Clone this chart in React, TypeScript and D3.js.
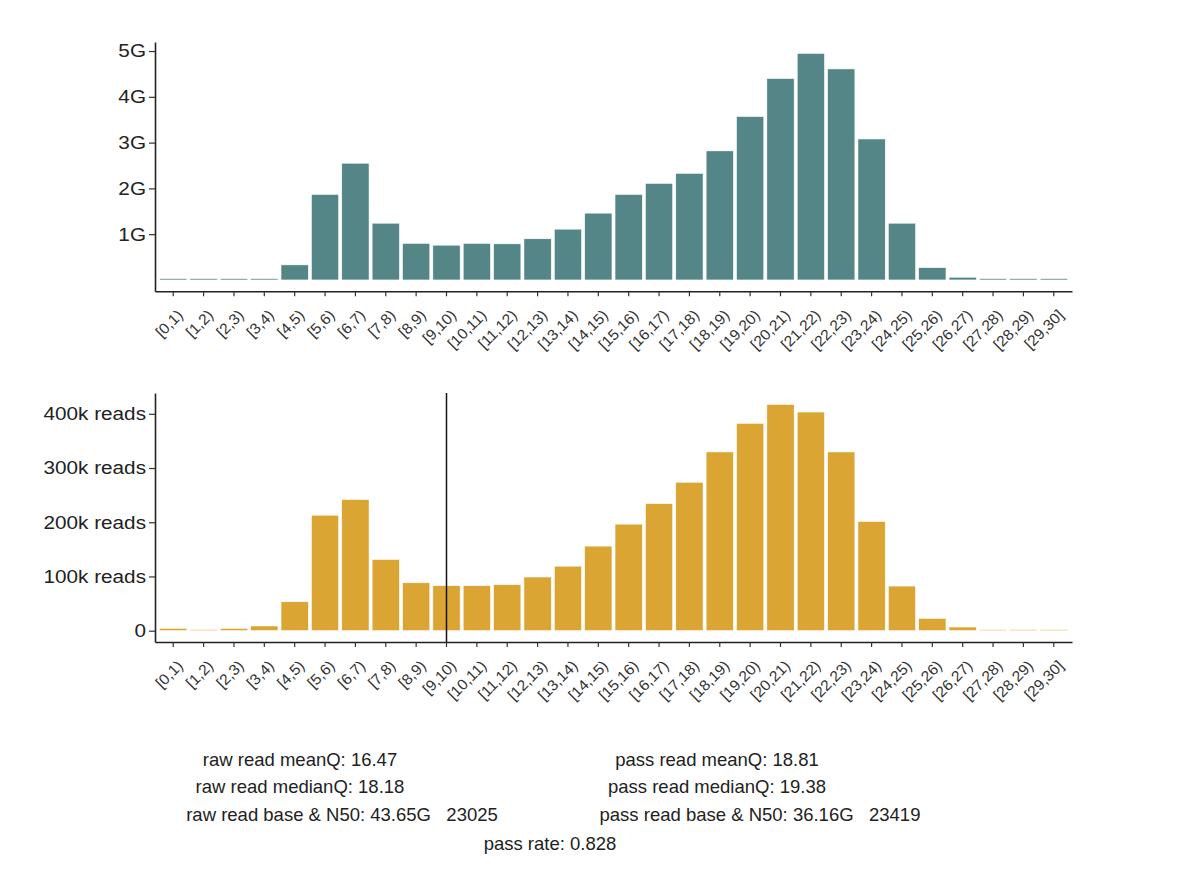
import * as d3 from 'd3'
import { useEffect, useRef } from 'react'

// bins of read quality
const bins: string[] = d3.range(30).map(i => (i === 29 ? '[29,30]' : `[${i},${i + 1})`))

// total bases per bin (G)
const baseValues: number[] = [
  0.03, 0.03, 0.03, 0.03, 0.33, 1.87, 2.55, 1.24, 0.8, 0.76,
  0.8, 0.79, 0.9, 1.11, 1.46, 1.87, 2.11, 2.33, 2.82, 3.57,
  4.4, 4.95, 4.61, 3.08, 1.24, 0.27, 0.06, 0.03, 0.03, 0.03,
]

// read counts per bin (k reads)
const readValues: number[] = [
  4.4, 2, 4.4, 8.7, 53.4, 213, 242, 131.5, 88.4, 83,
  83, 85, 99, 119, 156, 196.5, 234.6, 273.8, 329.7, 382.5,
  417.5, 403.3, 329.7, 201.5, 82.3, 22.8, 6.8, 2, 2, 2,
]

const baseTicks: number[] = [1, 2, 3, 4, 5]
const readTicks: number[] = [0, 100, 200, 300, 400]
const passCutoff = '[9,10)'

const rawStats: string[] = [
  'raw read meanQ: 16.47',
  'raw read medianQ: 18.18',
  'raw read base & N50: 43.65G   23025',
]
const passStats: string[] = [
  'pass read meanQ: 18.81',
  'pass read medianQ: 19.38',
  'pass read base & N50: 36.16G   23419',
]
const passRate = 'pass rate: 0.828'

const width = 1184
const height = 884
const left = 155
const right = 1072
const font = '"Liberation Sans", Arial, sans-serif'

function drawPanel(
  svg: d3.Selection<SVGSVGElement, unknown, null, undefined>,
  values: number[],
  top: number,
  bottom: number,
  ticks: number[],
  fmt: (d: number) => string,
  color: string,
  vline: string | null
) {
  const x = d3.scaleBand().domain(bins).range([left, right]).paddingInner(0.1).paddingOuter(0.15)
  const max = d3.max(values) || 1
  const y = d3
    .scaleLinear()
    .domain([-0.05 * max, max * 1.05])
    .range([bottom, top])

  const g = svg.append('g')

  g.selectAll('rect')
    .data(values)
    .join('rect')
    .attr('x', (d, i) => x(bins[i])!)
    .attr('width', x.bandwidth())
    .attr('y', d => y(d))
    .attr('height', d => y(0) - y(d))
    .attr('fill', color)
    .attr('stroke', '#fff')
    .attr('stroke-width', 0.6)

  if (vline) {
    const vx = x(vline)! + x.bandwidth() / 2
    g.append('line')
      .attr('x1', vx)
      .attr('x2', vx)
      .attr('y1', top)
      .attr('y2', bottom)
      .attr('stroke', '#111')
      .attr('stroke-width', 1.5)
  }

  // x axis
  const xa = g
    .append('g')
    .attr('transform', `translate(0,${bottom})`)
    .call(d3.axisBottom(x).tickSize(5).tickSizeOuter(0))
  xa.select('.domain').attr('stroke', '#222').attr('stroke-width', 1.6)
  xa.selectAll('.tick line').attr('stroke', '#333').attr('stroke-width', 1.2)
  xa.selectAll('.tick text')
    .attr('x', 0)
    .attr('y', 0)
    .attr('dy', '0.35em')
    .attr('text-anchor', 'end')
    .attr('transform', 'translate(7,21) rotate(-45) scale(1.05,1)')
    .attr('font-family', font)
    .attr('font-size', 15)
    .attr('fill', '#333')

  // y axis
  const ya = g
    .append('g')
    .attr('transform', `translate(${left},0)`)
    .call(d3.axisLeft(y).tickValues(ticks).tickFormat(d => fmt(+d)).tickSize(6).tickSizeOuter(0))
  ya.select('.domain').attr('stroke', '#222').attr('stroke-width', 1.6)
  ya.selectAll('.tick line').attr('stroke', '#333').attr('stroke-width', 1.2)
  ya.selectAll('.tick text')
    .attr('x', 0)
    .attr('transform', 'translate(-9,0) scale(1.12,1)')
    .attr('font-family', font)
    .attr('font-size', 18.5)
    .attr('fill', '#222')
}

export default function App() {
  const ref = useRef<SVGSVGElement>(null)

  useEffect(() => {
    if (!ref.current) return
    const svg = d3.select(ref.current)
    svg.selectAll('*').remove()

    drawPanel(svg, baseValues, 42, 291.3, baseTicks, d => `${d}G`, '#548687', null)
    drawPanel(svg, readValues, 393, 642, readTicks, d => (d === 0 ? '0' : `${d}k reads`), '#daa532', passCutoff)

    const txt = svg
      .append('g')
      .attr('font-family', font)
      .attr('font-size', 18.5)
      .attr('fill', '#222')
      .attr('text-anchor', 'middle')
    const rows = [766, 793, 821]
    const rawX = [300, 300, 342]
    const passX = [717, 717, 760]
    const put = (s: string, px: number, py: number) =>
      txt
        .append('text')
        .attr('x', px)
        .attr('y', py)
        .attr('xml:space', 'preserve')
        .text(s)
    rawStats.forEach((s, i) => put(s, rawX[i], rows[i]))
    passStats.forEach((s, i) => put(s, passX[i], rows[i]))
    put(passRate, 550, 850)
  }, [])

  return (
    <svg
      ref={ref}
      width={width}
      height={height}
      style={{ position: 'absolute', left: 0, top: 0, background: '#fff' }}
    />
  )
}
